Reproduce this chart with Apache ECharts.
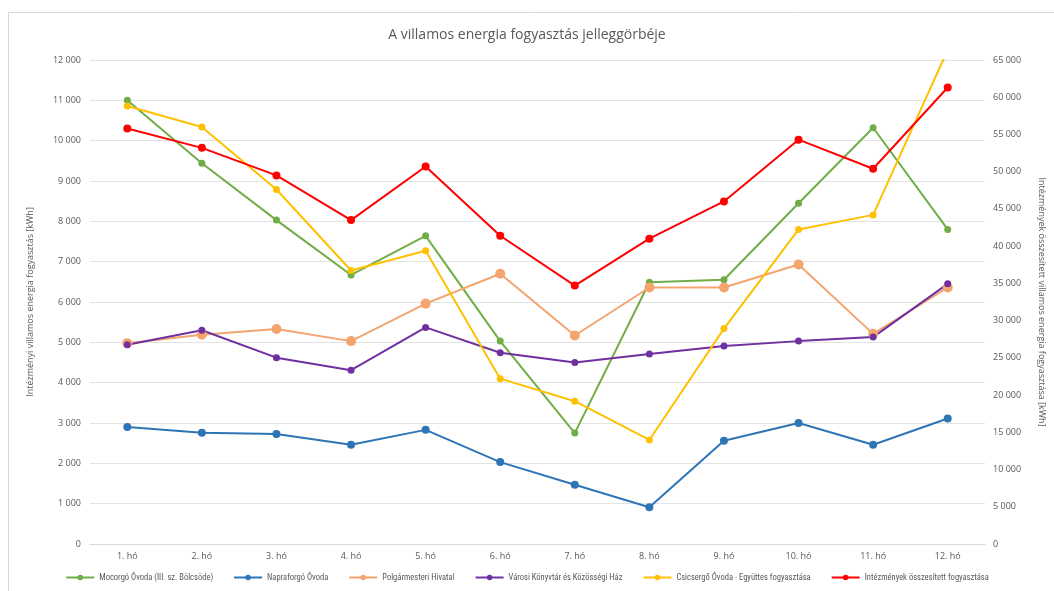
<!DOCTYPE html>
<html><head><meta charset="utf-8">
<script src="https://cdn.jsdelivr.net/npm/echarts@6/dist/echarts.min.js"></script>
<style>html,body{margin:0;padding:0;background:#fff}#c{width:1054px;height:591px}</style>
</head><body><div id="c"></div>
<script>
const months = ['1. hó','2. hó','3. hó','4. hó','5. hó','6. hó','7. hó','8. hó','9. hó','10. hó','11. hó','12. hó'];
const mocorgo = [11000, 9440, 8030, 6670, 7640, 5030, 2750, 6490, 6550, 8450, 10320, 7800];
const napraforgo = [2900, 2760, 2730, 2460, 2830, 2030, 1470, 910, 2560, 3000, 2460, 3110];
const polgarmesteri = [4980, 5190, 5330, 5030, 5960, 6700, 5170, 6360, 6360, 6930, 5210, 6360];
const varosi = [4940, 5300, 4620, 4310, 5370, 4740, 4500, 4710, 4910, 5030, 5130, 6450];
const csicsergo = [10860, 10340, 8790, 6780, 7270, 4100, 3540, 2580, 5340, 7800, 8160, 12250];
const osszesitett = [55800, 53200, 49500, 43500, 50700, 41400, 34700, 41000, 46000, 54300, 50400, 61300];
const leftTicks = {min: 0, max: 12000, interval: 1000};
const rightTicks = {min: 0, max: 65000, interval: 5000};

const fmt = v => String(v).replace(/\B(?=(\d{3})+(?!\d))/g, ' ');
const txt = '#595959';
function ser(name, data, color, size, yIdx) {
  return {name, type: 'line', data, yAxisIndex: yIdx || 0, symbol: 'circle', symbolSize: size,
    clip: true, itemStyle: {color}, lineStyle: {color, width: 2}, emphasis: {disabled: true}};
}
const chart = echarts.init(document.getElementById('c'));
chart.setOption({
  animation: false,
  textStyle: {fontFamily: 'Open Sans, sans-serif'},
  graphic: [{type: 'rect', shape: {x: 8.5, y: 12.5, width: 1060, height: 600}, style: {fill: 'none', stroke: '#d9d9d9', lineWidth: 1}}],
  title: {text: 'A villamos energia fogyasztás jelleggörbéje', left: 'center', top: 23,
    textStyle: {color: txt, fontSize: 14, fontWeight: 'normal'}},
  grid: {left: 90, right: 65, top: 60, bottom: 47},
  legend: {bottom: 4, left: 'center', width: 1040, itemWidth: 28, itemHeight: 7, itemGap: 20,
    textStyle: {color: txt, fontSize: 8.5, fontFamily: 'Liberation Sans Narrow, Roboto Condensed, Roboto, sans-serif'},
    data: ['Mocorgó Óvoda (III. sz. Bölcsöde)', 'Napraforgó Óvoda', 'Polgármesteri Hivatal', 'Városi Könyvtár és Közösségi Ház', 'Csicsergő Óvoda - Együttes fogyasztása', 'Intézmények összesített fogyasztása']},
  xAxis: {type: 'category', data: months, boundaryGap: true,
    axisLine: {lineStyle: {color: '#d9d9d9'}}, axisTick: {show: false},
    axisLabel: {color: txt, fontSize: 9, margin: 8}},
  yAxis: [
    {type: 'value', min: leftTicks.min, max: leftTicks.max, interval: leftTicks.interval,
      name: 'Intézményi villamos energia fogyasztás [kWh]', nameLocation: 'middle', nameGap: 55, nameRotate: 90,
      nameTextStyle: {color: txt, fontSize: 9},
      axisLabel: {color: txt, fontSize: 9, margin: 9, formatter: fmt},
      splitLine: {lineStyle: {color: '#e3e3e3'}}, axisLine: {show: false}, axisTick: {show: false}},
    {type: 'value', min: rightTicks.min, max: rightTicks.max, interval: rightTicks.interval,
      name: 'Intézmények összesített villamos energia fogyasztása [kWh]', nameLocation: 'middle', nameGap: 52, nameRotate: -90,
      nameTextStyle: {color: txt, fontSize: 9},
      axisLabel: {color: txt, fontSize: 9, margin: 8, formatter: fmt},
      splitLine: {show: false}, axisLine: {show: false}, axisTick: {show: false}}
  ],
  series: [
    ser('Mocorgó Óvoda (III. sz. Bölcsöde)', mocorgo, '#70ad47', 7),
    ser('Napraforgó Óvoda', napraforgo, '#2e75b6', 8),
    ser('Polgármesteri Hivatal', polgarmesteri, '#f4a46e', 10),
    ser('Városi Könyvtár és Közösségi Ház', varosi, '#7030a0', 7),
    ser('Csicsergő Óvoda - Együttes fogyasztása', csicsergo, '#ffc000', 7),
    ser('Intézmények összesített fogyasztása', osszesitett, '#ff0000', 8, 1)
  ]
});
</script></body></html>
